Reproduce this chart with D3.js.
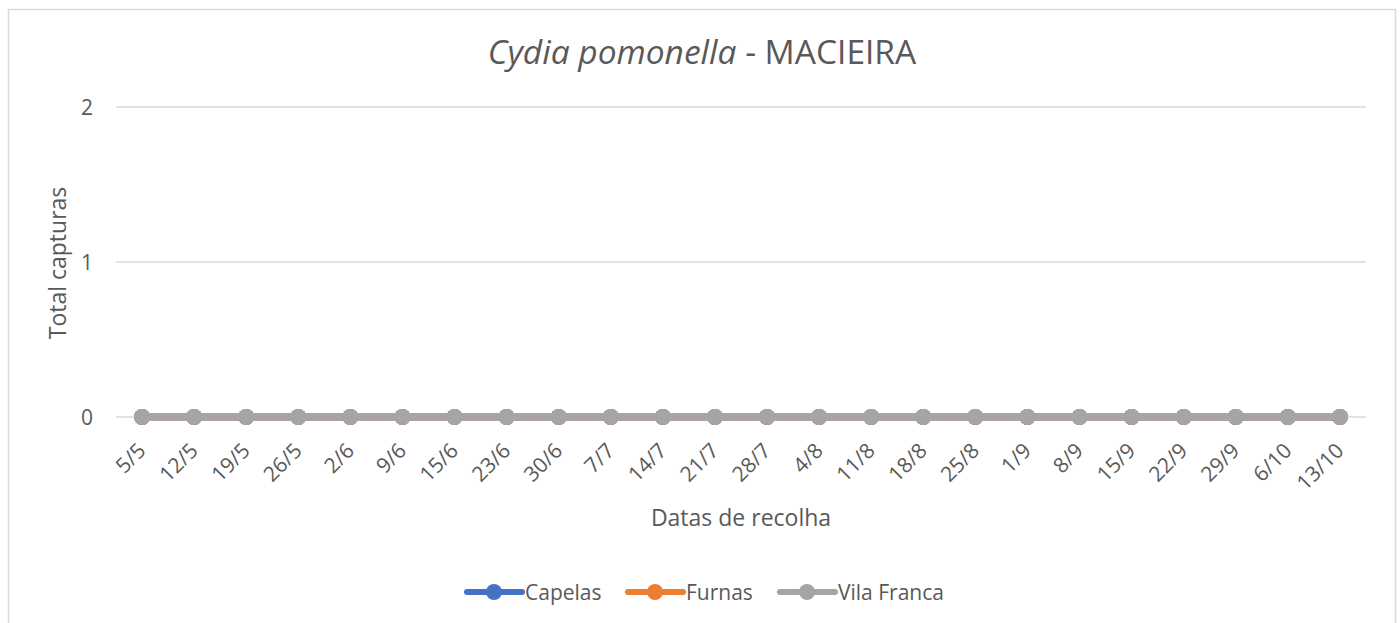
<!DOCTYPE html>
<html>
<head>
<meta charset="utf-8">
<script src="https://cdn.jsdelivr.net/npm/d3@7"></script>
<style>
  body { margin: 0; background: #fff; }
  svg { display: block; font-family: "Open Sans", sans-serif; }
</style>
</head>
<body>
<svg id="chart" width="1400" height="623"></svg>
<script>
var dates = ["5/5","12/5","19/5","26/5","2/6","9/6","15/6","23/6","30/6","7/7","14/7","21/7",
  "28/7","4/8","11/8","18/8","25/8","1/9","8/9","15/9","22/9","29/9","6/10","13/10"];
var capelas = [0,0,0,0,0,0,0,0,0,0,0,0,0,0,0,0,0,0,0,0,0,0,0,0];
var furnas = [0,0,0,0,0,0,0,0,0,0,0,0,0,0,0,0,0,0,0,0,0,0,0,0];
var vilaFranca = [0,0,0,0,0,0,0,0,0,0,0,0,0,0,0,0,0,0,0,0,0,0,0,0];
var yTicks = [0, 1, 2];

var series = [
  {name: "Capelas", values: capelas, color: "#4472C4"},
  {name: "Furnas", values: furnas, color: "#ED7D31"},
  {name: "Vila Franca", values: vilaFranca, color: "#A5A5A5"}
];

var svg = d3.select("#chart");
var plotLeft = 116, plotRight = 1366, plotTop = 107, plotBottom = 417;
var textColor = "#595959";

// chart frame
svg.append("rect").attr("x", 8.5).attr("y", 9.5).attr("width", 1387).attr("height", 640)
  .attr("fill", "#fff").attr("stroke", "#d9d9d9").attr("stroke-width", 1.5);

var x = d3.scaleBand().domain(dates).range([plotLeft, plotRight]);
var y = d3.scaleLinear().domain([0, 2]).range([plotBottom, plotTop]);

// gridlines
svg.append("g").selectAll("line").data(yTicks).enter().append("line")
  .attr("x1", plotLeft).attr("x2", plotRight)
  .attr("y1", function(d){ return y(d); }).attr("y2", function(d){ return y(d); })
  .attr("stroke", "#d9d9d9").attr("stroke-width", 1.3);

// y axis labels
var yAxis = svg.append("g").attr("transform", "translate(93,0)")
  .call(d3.axisLeft(y).tickValues(yTicks).tickSize(0).tickPadding(0).tickFormat(d3.format("d")));
yAxis.select(".domain").remove();
yAxis.selectAll("text").attr("font-size", 21).attr("fill", textColor)
  .attr("font-family", "'Open Sans', sans-serif").attr("dy", "0.36em");

// x axis labels
var xAxis = svg.append("g").attr("transform", "translate(0," + plotBottom + ")")
  .call(d3.axisBottom(x).tickSize(0).tickPadding(0));
xAxis.select(".domain").remove();
xAxis.selectAll("text")
  .attr("font-size", 21).attr("fill", textColor).attr("font-family", "'Open Sans', sans-serif")
  .attr("text-anchor", "end").attr("dy", 0).attr("y", 0)
  .attr("transform", "translate(5,35) rotate(-45)");

// lines and markers
var line = d3.line()
  .x(function(d, i){ return x(dates[i]) + x.bandwidth() / 2; })
  .y(function(d){ return y(d); });

series.forEach(function(s){
  var g = svg.append("g");
  g.append("path").datum(s.values).attr("d", line)
    .attr("fill", "none").attr("stroke", s.color).attr("stroke-width", 7)
    .attr("stroke-linecap", "round");
  g.selectAll("circle").data(s.values).enter().append("circle")
    .attr("cx", function(d, i){ return x(dates[i]) + x.bandwidth() / 2; })
    .attr("cy", function(d){ return y(d); })
    .attr("r", 8).attr("fill", s.color);
});

// title
var title = svg.append("text").attr("x", 702).attr("y", 64).attr("text-anchor", "middle")
  .attr("font-size", 33.5).attr("fill", textColor);
title.append("tspan").attr("font-style", "italic").text("Cydia pomonella");
title.append("tspan").text(" - MACIEIRA");

// axis titles
svg.append("text").attr("transform", "translate(66,263) rotate(-90)").attr("text-anchor", "middle")
  .attr("font-size", 23).attr("fill", textColor).text("Total capturas");
svg.append("text").attr("x", 741).attr("y", 526).attr("text-anchor", "middle")
  .attr("font-size", 23).attr("fill", textColor).text("Datas de recolha");

// legend
var legendX = [467, 628, 780];
var legend = svg.append("g").selectAll("g").data(series).enter().append("g")
  .attr("transform", function(d, i){ return "translate(" + legendX[i] + ",592)"; });
legend.append("line").attr("x1", 0).attr("x2", 55).attr("y1", 0).attr("y2", 0)
  .attr("stroke", function(d){ return d.color; }).attr("stroke-width", 6).attr("stroke-linecap", "round");
legend.append("circle").attr("cx", 27).attr("cy", 0).attr("r", 8)
  .attr("fill", function(d){ return d.color; });
legend.append("text").attr("x", 58).attr("y", 8).attr("font-size", 21).attr("fill", textColor)
  .text(function(d){ return d.name; });
</script>
</body>
</html>
